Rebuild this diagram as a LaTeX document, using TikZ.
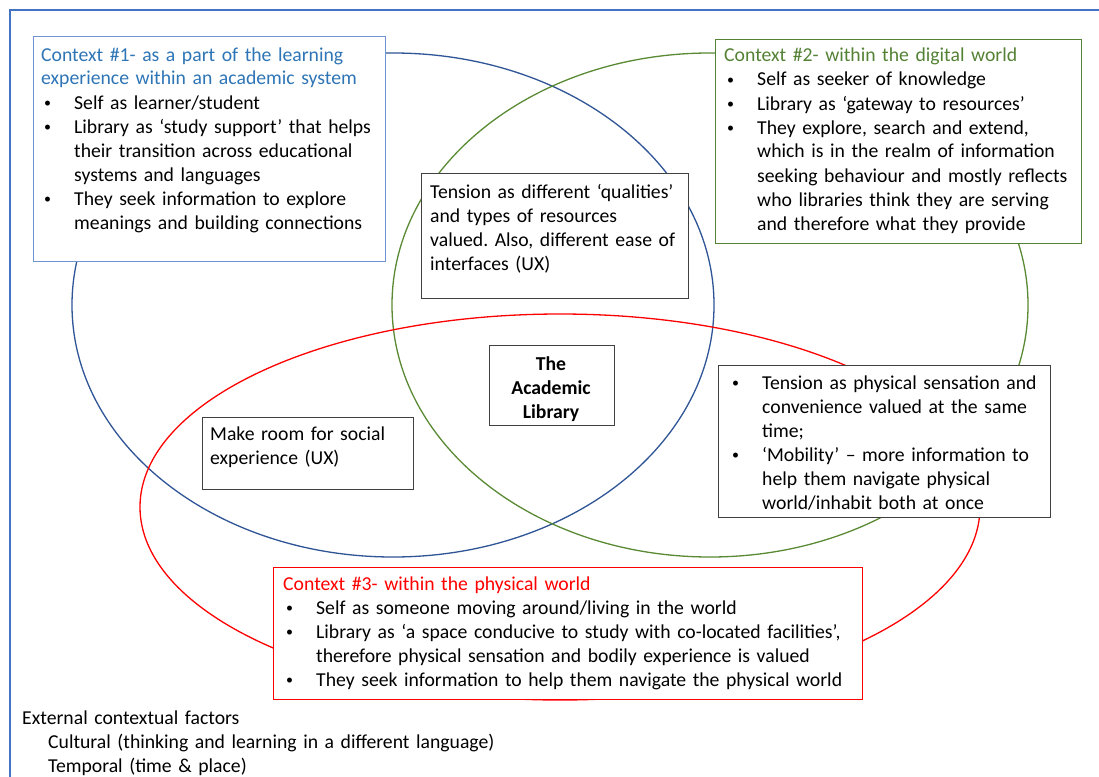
\documentclass[tikz,border=0pt]{standalone}
\usepackage{fontspec}
\setmainfont{Carlito}
\usepackage{xcolor}
\definecolor{frameblue}{HTML}{4472C4}
\definecolor{ellblue}{HTML}{2F5597}
\definecolor{ellgreen}{HTML}{5A8A34}
\definecolor{ellred}{HTML}{FF0000}
\definecolor{boxblue}{HTML}{6F94D4}
\definecolor{titleblue}{HTML}{2E75B6}
\definecolor{titlegreen}{HTML}{548235}
\definecolor{boxgray}{HTML}{404040}
\setlength{\parindent}{0pt}
\frenchspacing
\newcommand{\fs}{\fontsize{19.7}{24}\selectfont\frenchspacing}
\newcommand{\bitem}[1]{\hangindent=33pt\hangafter=1\leavevmode\makebox[33pt][l]{\hspace{3pt}\raisebox{1.6pt}{\fontsize{14}{14}\selectfont •}}#1\par}
\tikzset{
  bx/.style={draw, fill=white, anchor=north west, inner sep=0pt, line width=1.3pt},
  txt/.style={anchor=base west, inner sep=0pt, text width=700pt, font=\fs},
  ell/.style={line width=1.3pt},
}
\begin{document}
\begin{tikzpicture}[x=1pt,y=-1pt]
\clip (0,0) rectangle (1099,776);
\fill[white] (0,0) rectangle (1099,776);
% outer frame
\draw[frameblue, line width=1.2pt] (10,10) rectangle (1120,800);
% ellipses
\draw[ell, ellblue] (393,305) ellipse [x radius=321pt, y radius=252pt];
\draw[ell, ellgreen] (710,305) ellipse [x radius=318pt, y radius=252pt];
\draw[ell, ellred] (560,507) ellipse [x radius=420pt, y radius=193pt];
% boxes
\node[bx, draw=boxblue, line width=1.1pt, minimum width=352pt, minimum height=225pt] (c1) at (33,36) {};
\node[bx, draw=titlegreen, minimum width=366pt, minimum height=204pt] (c2) at (715,39) {};
\node[bx, draw=boxgray, minimum width=267pt, minimum height=125pt] (t1) at (421,173) {};
\node[bx, draw=boxgray, minimum width=125pt, minimum height=80pt] (lib) at (489,345) {};
\node[bx, draw=boxgray, minimum width=211pt, minimum height=72pt] (soc) at (202,417) {};
\node[bx, draw=boxgray, minimum width=332pt, minimum height=152pt] (t2) at (718,365) {};
\node[bx, draw=ellred, minimum width=589pt, minimum height=132pt] (c3) at (273,567) {};
% texts
\node[txt] (c1t) at (41,61) {{\color{titleblue}Context \#1- as a part of the learning\newline experience within an academic system}\par
\bitem{Self as learner/student}
\bitem{Library as ‘study support’ that helps\newline their transition across educational\newline systems and languages}
\bitem{They seek information to explore\newline meanings and building connections}};
\node[txt] (c2t) at (724,62) {{\color{titlegreen}Context \#2- within the digital world}\par
\bitem{Self as seeker of knowledge}
\bitem{Library as ‘gateway to resources’}
\bitem{They explore, search and extend,\newline which is in the realm of information\newline seeking behaviour and mostly reflects\newline who libraries think they are serving\newline and therefore what they provide}};
\node[txt] (t1t) at (430,198) {Tension as different ‘qualities’\newline and types of resources\newline valued. Also, different ease of\newline interfaces (UX)};
\node[anchor=base, inner sep=0pt, text width=120pt, align=center, font=\fs\bfseries] (libt) at (551,370) {The\\Academic\\Library};
\node[txt] (soct) at (210,440) {Make room for social\newline experience (UX)};
\node[txt] (t2t) at (729,389) {\bitem{Tension as physical sensation and\newline convenience valued at the same\newline time;}
\bitem{‘Mobility’ – more information to\newline help them navigate physical\newline world/inhabit both at once}};
\node[txt] (c3t) at (283,590) {{\color{ellred}Context \#3- within the physical world}\par
\bitem{Self as someone moving around/living in the world}
\bitem{Library as ‘a space conducive to study with co-located facilities’,\newline therefore physical sensation and bodily experience is valued}
\bitem{They seek information to help them navigate the physical world}};
\node[txt] (ext) at (22,724) {External contextual factors\par
\hspace*{26pt}Cultural (thinking and learning in a different language)\par
\hspace*{26pt}Temporal (time \& place)};
\end{tikzpicture}
\end{document}
